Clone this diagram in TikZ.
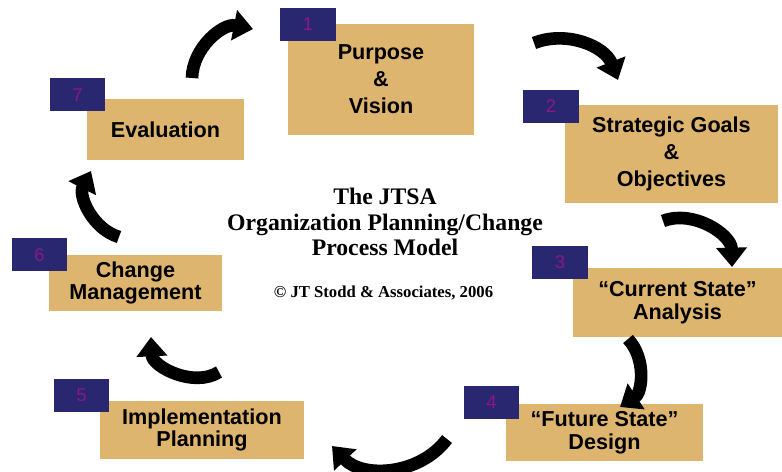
\documentclass[tikz,border=0pt]{standalone}
\usepackage{fontspec}
\setmainfont{Liberation Serif}
\setsansfont{Liberation Sans}
\usepackage{tikz}
\usetikzlibrary{arrows.meta}
\definecolor{Straw}{RGB}{222,181,110}
\definecolor{Indigo}{RGB}{41,39,112}
\definecolor{Plum}{RGB}{140,24,130}

\begin{document}
\begin{tikzpicture}[
  x=0.02cm, y=0.02cm,
  stage/.style={fill=Straw, align=center, inner sep=0pt,
    font=\sffamily\bfseries\fontsize{12.3}{13}\selectfont},
  badge/.style={fill=Indigo, text=Plum, inner sep=0pt,
    minimum width=1.12cm, minimum height=0.66cm,
    font=\sffamily\fontsize{10.5}{12}\selectfont},
  swoosh/.style={line width=7.2pt, -{Triangle[width=17pt, length=11pt]}},
  ]
\useasboundingbox (0,0) rectangle (782,-472);
\fill [white] (0,0) rectangle (782,-472);

\node [stage, minimum width=3.72cm, minimum height=2.22cm] (s1) at (381,-79.5) {Purpose\\[2.3pt]\&\\[2.3pt]Vision};
\node [stage, minimum width=4.26cm, minimum height=1.96cm] (s2) at (671.5,-154) {Strategic Goals\\[2.3pt]\&\\[2.3pt]Objectives};
\node [stage, minimum width=4.18cm, minimum height=1.38cm] (s3) at (677.5,-302.5) {“Current State”\\Analysis};
\node [stage, minimum width=3.94cm, minimum height=1.14cm] (s4) at (604.5,-432.5) {“Future State”\\Design};
\node [stage, minimum width=4.08cm, minimum height=1.16cm] (s5) at (202,-430) {Implementation\\Planning};
\node [stage, minimum width=3.46cm, minimum height=1.12cm] (s6) at (135.5,-283) {Change\\Management};
\node [stage, minimum width=3.14cm, minimum height=1.22cm] (s7) at (165.5,-129.5) {Evaluation};

\node [badge] (b1) at (308,-24.5) {1};
\node [badge] (b2) at (551,-106.5) {2};
\node [badge] (b3) at (560,-262.5) {3};
\node [badge] (b4) at (491.5,-402.5) {4};
\node [badge] (b5) at (81.5,-395.5) {5};
\node [badge] (b6) at (39.5,-255) {6};
\node [badge] (b7) at (77.5,-95) {7};

\node [align=center, font=\bfseries\fontsize{13.5}{14.5}\selectfont] (heading) at (385,-222)
  {The JTSA\\Organization Planning/Change\\Process Model};
\node [font=\bfseries\fontsize{9.5}{11}\selectfont] (credit) at (383.5,-293) {© JT Stodd \& Associates, 2006};

\coordinate (t1) at (534,-43);
\coordinate (t2) at (663,-221);
\coordinate (t3) at (628,-339);
\coordinate (t4) at (447,-439);
\coordinate (t5) at (219,-372);
\coordinate (t6) at (119,-237);
\coordinate (t7) at (192,-78);
\coordinate (h1) at (253,-29);
\coordinate (h2) at (618,-80);
\coordinate (h3) at (732,-267);
\coordinate (h4) at (620,-407);
\coordinate (h5) at (332,-446);
\coordinate (h6) at (151,-337);
\coordinate (h7) at (91,-171);

\path [swoosh]
(t1) edge [bend left=45] (h2)
(t2) edge [bend left=55] (h3)
(t3) edge [bend left=50] (h4)
(t4) edge [bend left=50] (h5)
(t5) edge [bend left=60] (h6)
(t6) edge [bend left=50] (h7)
(t7) edge [bend left=50] (h1);
\end{tikzpicture}
\end{document}
